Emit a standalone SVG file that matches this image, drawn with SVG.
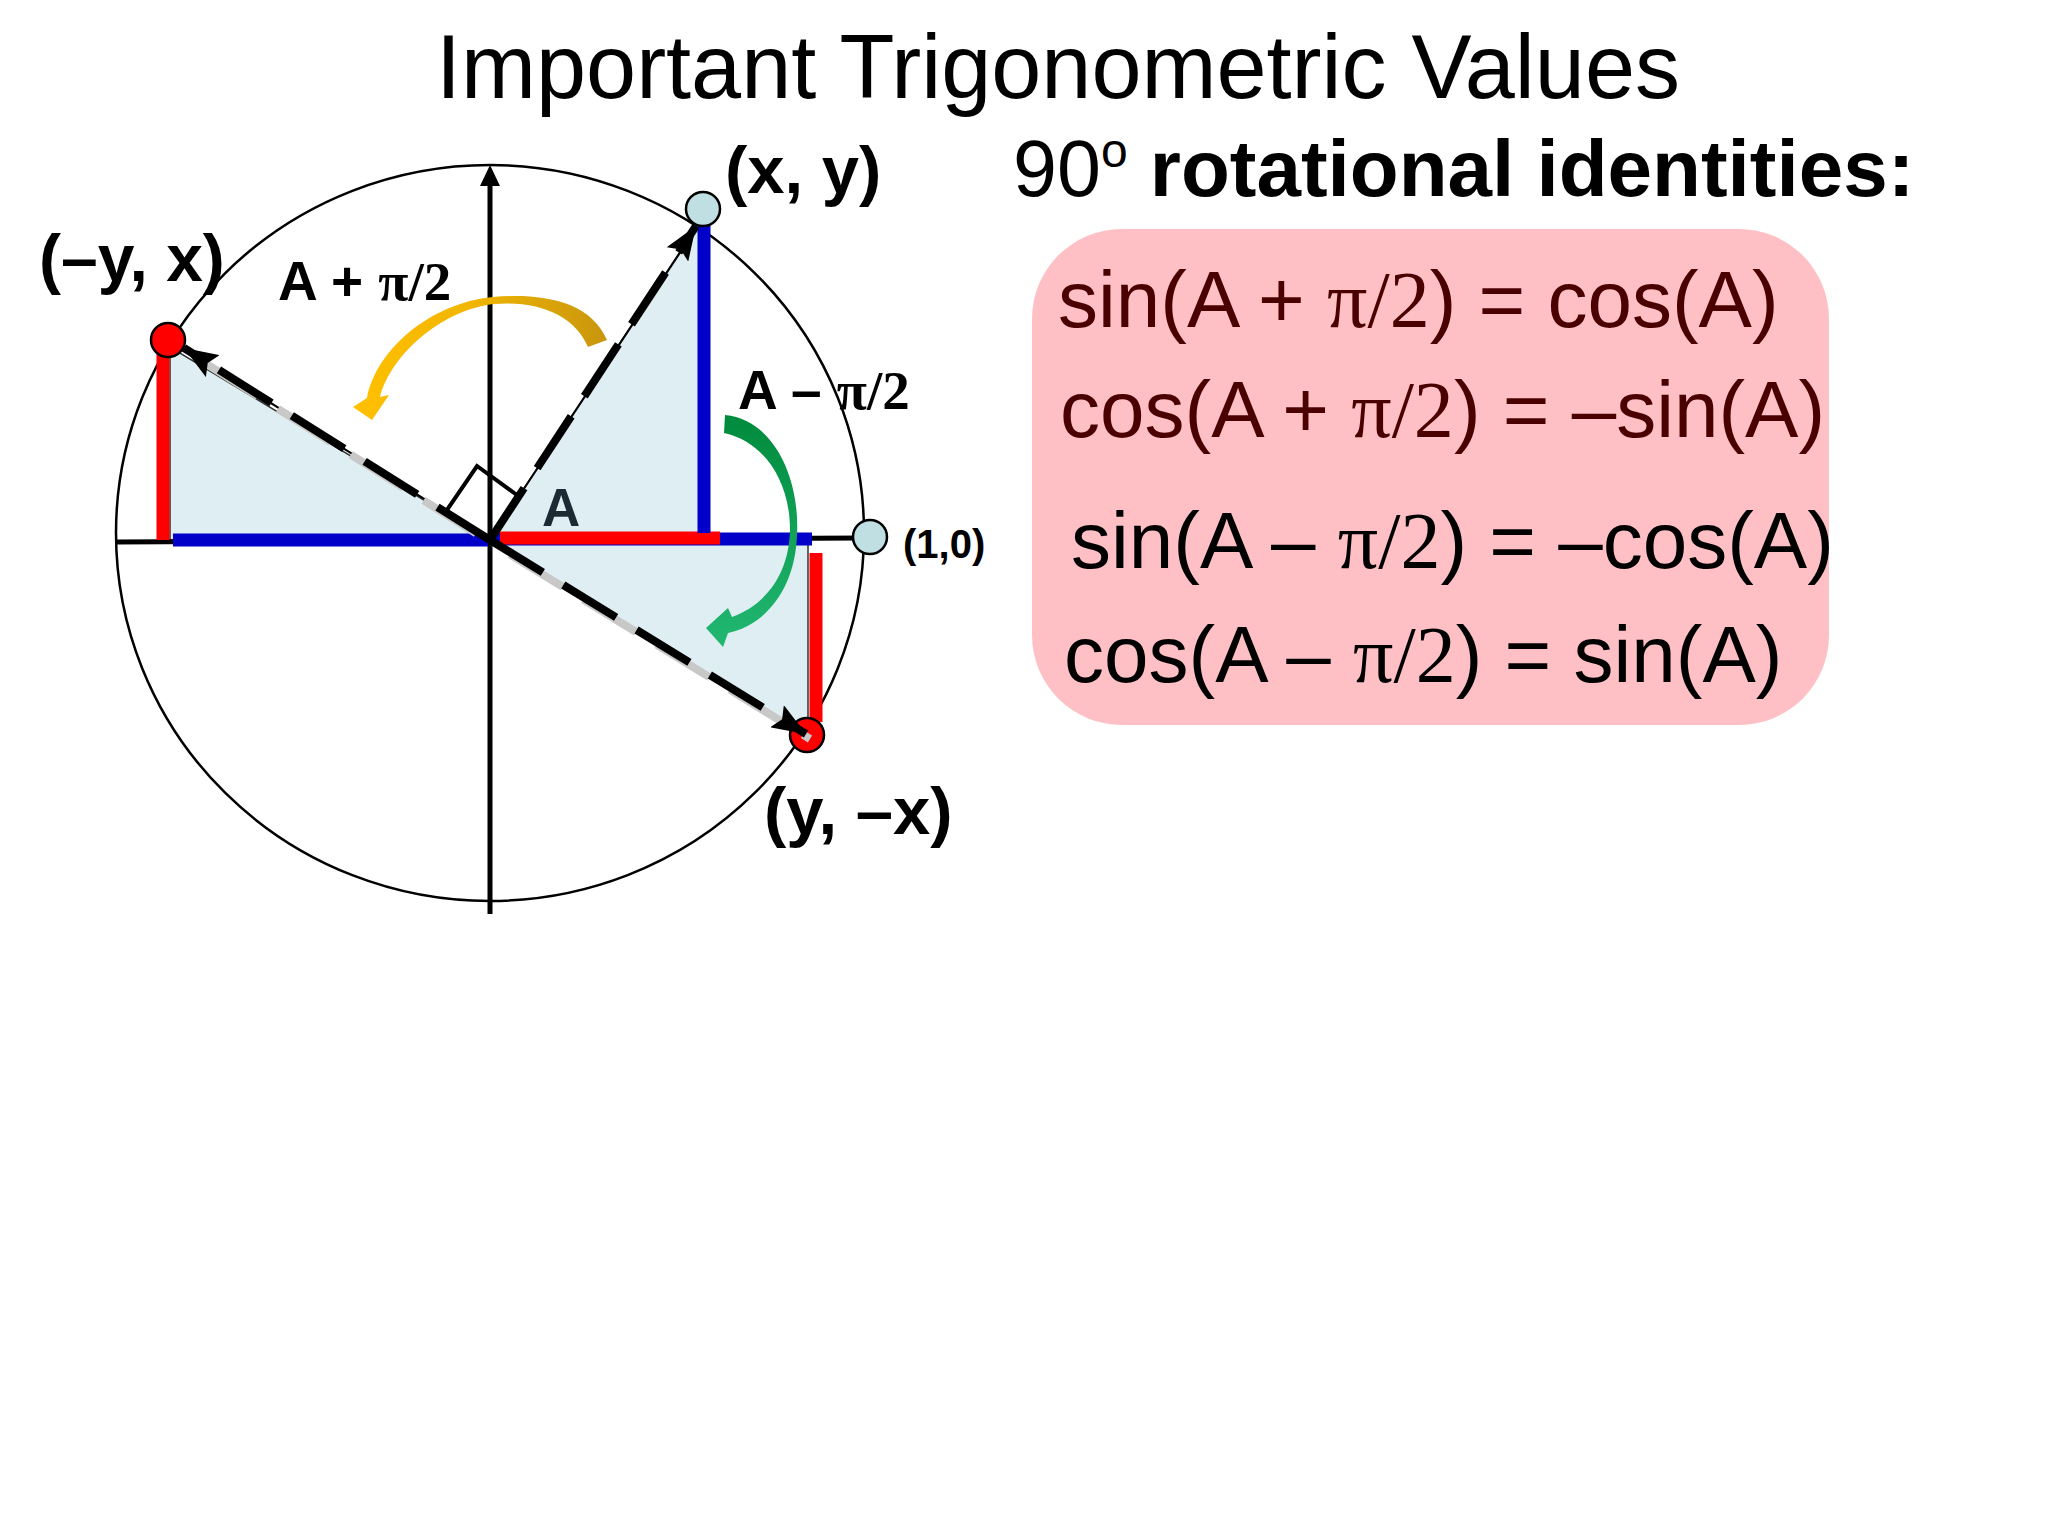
<svg xmlns="http://www.w3.org/2000/svg" width="2048" height="1536" viewBox="0 0 2048 1536">
<style>
.sans{font-family:"Liberation Sans",Arial,sans-serif}
.serif{font-family:"Liberation Serif","Times New Roman",serif}
.lbl{font-family:"Liberation Sans",Arial,sans-serif;font-weight:bold;fill:#000}
.eq{font-family:"Liberation Sans",Arial,sans-serif;font-size:80px}
.tri{fill:#DEEEF2;stroke:#333;stroke-width:1.5}
.blue{stroke:#0000C8;stroke-width:13;fill:none}
.red{stroke:#FF0000;stroke-width:13;fill:none}
.axis{stroke:#000;stroke-width:5;fill:none}
.thin{stroke:#000;stroke-width:2;fill:none}
.shadow{stroke:#C8C8C8;stroke-width:8;stroke-dasharray:62 24;fill:none}
.dash{stroke:#000;stroke-width:8;stroke-dasharray:62 24;fill:none}
.pt-cyan{fill:#BFDFE3;stroke:#000;stroke-width:2.5}
.pt-red{fill:#FF0000;stroke:#000;stroke-width:2.5}
</style>
<defs>
<marker id="ah" markerUnits="userSpaceOnUse" viewBox="0 0 34 26" refX="34" refY="13" markerWidth="34" markerHeight="26" orient="auto">
<path d="M0,0 L34,13 L0,26 L6,13 Z" fill="#000"/>
</marker>
<linearGradient id="gold" x1="0" y1="0" x2="1" y2="0">
<stop offset="0" stop-color="#FFC000"/>
<stop offset="0.45" stop-color="#F2B600"/>
<stop offset="1" stop-color="#C8960E"/>
</linearGradient>
<linearGradient id="green" x1="0" y1="0" x2="0" y2="1">
<stop offset="0" stop-color="#008A3C"/>
<stop offset="1" stop-color="#22B872"/>
</linearGradient>
</defs>
<rect width="2048" height="1536" fill="#fff"/>

<g id="title">
<text class="sans" x="1058" y="98" font-size="90" text-anchor="middle" fill="#000">Important Trigonometric Values</text>
</g>

<g id="subtitle">
<text class="sans" x="1013" y="196" font-size="79" fill="#000">90<tspan font-size="48" dy="-29">o</tspan><tspan dy="29" font-weight="bold" font-size="80"> rotational identities:</tspan></text>
</g>

<g id="identities">
<rect x="1032" y="229" width="797" height="496" rx="90" ry="90" fill="#FEC0C4"/>
<text class="eq" x="1058" y="327" fill="#4A0000">sin(A + <tspan class="serif">π/2</tspan>) = cos(A)</text>
<text class="eq" x="1060" y="437" fill="#4A0000">cos(A + <tspan class="serif">π/2</tspan>) = –sin(A)</text>
<text class="eq" x="1071" y="568" fill="#000">sin(A – <tspan class="serif">π/2</tspan>) = –cos(A)</text>
<text class="eq" x="1064" y="682" fill="#000">cos(A – <tspan class="serif">π/2</tspan>) = sin(A)</text>
</g>

<g id="unit-circle">
<ellipse cx="490" cy="533" rx="374" ry="368" fill="none" stroke="#000" stroke-width="2.5"/>
</g>

<g id="triangles">
<polygon class="tri" points="490,540 697,226 704,222 704,540"/>
<polygon class="tri" points="490,540 170,347 170,540"/>
<polygon class="tri" points="490,540 808,540 808,735"/>
</g>

<g id="axes">
<line class="axis" x1="117" y1="542" x2="862" y2="538"/>
<line class="axis" x1="490" y1="914" x2="490" y2="180"/>
<polygon points="490,165 480,186 500,186" fill="#000"/>
</g>

<g id="segments">
<line class="blue" x1="173" y1="540" x2="488" y2="540"/>
<line class="blue" x1="496" y1="539" x2="812" y2="539"/>
<line class="red" x1="500" y1="538" x2="720" y2="538"/>
<line class="blue" x1="704" y1="220" x2="704" y2="533"/>
<line class="red" x1="163" y1="350" x2="163" y2="540"/>
<line class="red" x1="816" y1="553" x2="816" y2="722"/>
</g>

<g id="right-angle">
<polyline points="447,510 477,466 521,498" fill="none" stroke="#000" stroke-width="4"/>
</g>

<g id="point-1-0"><circle class="pt-cyan" cx="870" cy="537" r="17"/></g>
<g id="point-x-y"><circle class="pt-cyan" cx="703" cy="209" r="17"/></g>
<g id="point-neg-y-x"><circle class="pt-red" cx="168" cy="340" r="17"/></g>
<g id="point-y-neg-x"><circle class="pt-red" cx="807" cy="735" r="17"/></g>

<g id="connectors">
<line class="thin" x1="490" y1="540" x2="695" y2="230"/>
<line class="thin" x1="490" y1="540" x2="186" y2="350"/>
<line class="thin" x1="490" y1="540" x2="800" y2="730"/>
<line class="shadow" x1="493" y1="544" x2="189" y2="353" stroke-dashoffset="-20"/>
<line class="shadow" x1="493" y1="544" x2="810" y2="739" stroke-dashoffset="-20"/>
<line class="dash" x1="490" y1="540" x2="696" y2="226" marker-end="url(#ah)"/>
<line class="dash" x1="490" y1="540" x2="184" y2="348" marker-end="url(#ah)"/>
<line class="dash" x1="490" y1="540" x2="806" y2="734" marker-end="url(#ah)"/>
<path id="arrow-plus" d="M607,340 C590,300 540,293 493,297 C430,303 376,350 367,398 L353,407 L372,420 L389,395 L380,397 C391,355 440,311 493,304 C540,300 575,316 588,347 Z" fill="url(#gold)"/>
<path id="arrow-minus" d="M725,415 C775,420 800,480 797,535 C795,590 765,625 728,633 L723,647 L706,628 L728,608 L732,617 C765,605 789,575 790,530 C790,482 765,442 724,433 Z" fill="url(#green)"/>
</g>

<g id="labels">
<text class="lbl" x="725" y="193" font-size="67">(x, y)</text>
<text class="lbl" x="39" y="281" font-size="66">(–y, x)</text>
<text class="lbl" x="764" y="834" font-size="67">(y, –x)</text>
<text class="lbl" x="903" y="558" font-size="40">(1,0)</text>
<text class="lbl" x="278" y="300" font-size="55">A + <tspan class="serif" font-weight="bold">π/2</tspan></text>
<text class="lbl" x="738" y="409" font-size="55">A – <tspan class="serif" font-weight="bold">π/2</tspan></text>
<text x="542" y="526" font-size="53" font-weight="bold" fill="#1C2B33" class="sans">A</text>
</g>
</svg>
